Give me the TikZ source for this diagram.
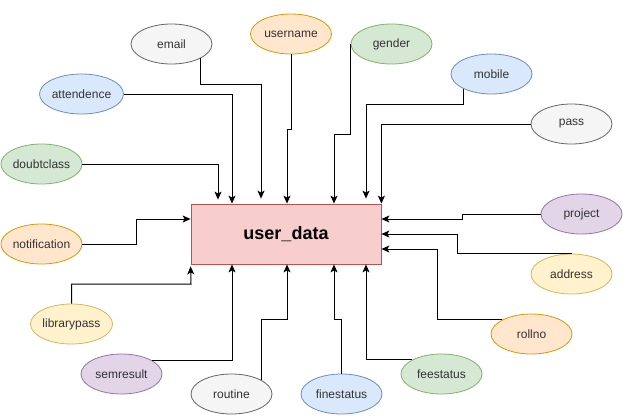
\documentclass[tikz,border=0pt]{standalone}
\usepackage{fontspec}
\setmainfont{Liberation Sans}
\usetikzlibrary{shapes.geometric,arrows.meta}
\definecolor{grayF}{HTML}{F5F5F5}\definecolor{grayS}{HTML}{666666}
\definecolor{orgF}{HTML}{FFE6CC}\definecolor{orgS}{HTML}{D79B00}
\definecolor{bluF}{HTML}{DAE8FC}\definecolor{bluS}{HTML}{6C8EBF}
\definecolor{grnF}{HTML}{D5E8D4}\definecolor{grnS}{HTML}{82B366}
\definecolor{yelF}{HTML}{FFF2CC}\definecolor{yelS}{HTML}{D6B656}
\definecolor{purF}{HTML}{E1D5E7}\definecolor{purS}{HTML}{9673A6}
\definecolor{redF}{HTML}{F8CECC}\definecolor{redS}{HTML}{B85450}
\definecolor{txt}{HTML}{333333}
\tikzset{
  attr/.style={ellipse,draw,line width=0.8pt,minimum width=81pt,minimum height=40pt,inner sep=0pt,font=\fontsize{12}{14}\selectfont,text=txt},
  gr/.style={attr,fill=grayF,draw=grayS},
  og/.style={attr,fill=orgF,draw=orgS},
  bl/.style={attr,fill=bluF,draw=bluS},
  gn/.style={attr,fill=grnF,draw=grnS},
  ye/.style={attr,fill=yelF,draw=yelS},
  pu/.style={attr,fill=purF,draw=purS},
  arr/.style={line width=1pt,-{Stealth[length=8pt,width=7pt,inset=2pt]}}
}
\begin{document}
\begin{tikzpicture}[x=1pt,y=-1pt]
\useasboundingbox (0,0) rectangle (623,415);
\node[draw=redS,fill=redF,line width=0.8pt,minimum width=190pt,minimum height=60pt,inner sep=0pt,font=\fontsize{18}{20}\selectfont\bfseries] (ud) at (286,234) {user\_data};
\node[gr] (email) at (171.5,44) {email};
\node[og] (username) at (291,34) {username};
\node[bl] (attendence) at (81.5,94) {attendence};
\node[gn] (doubtclass) at (41.5,164) {doubtclass};
\node[gn] (gender) at (391.5,44) {gender};
\node[bl] (mobile) at (491.5,74) {mobile};
\node[gr] (pass) at (571.5,124) {pass};
\node[og] (notification) at (41.5,244) {notification};
\node[ye] (librarypass) at (71.5,324) {librarypass};
\node[pu] (semresult) at (121.5,374) {semresult};
\node[gr] (routine) at (231.5,394) {routine};
\node[bl] (finestatus) at (341.5,394) {finestatus};
\node[gn] (feestatus) at (441.5,374) {feestatus};
\node[og] (rollno) at (531.5,334) {rollno};
\node[ye] (address) at (571.5,274) {address};
\node[pu] (project) at (581.5,214) {project};
% top
\draw[arr] (doubtclass.east) -| ([yshift=4pt]ud.north -| 218,0);
\draw[arr] (attendence.east) -| (ud.north -| 232,0);
\draw[arr] (email.-26.5) |- (261,84) -- ([yshift=5pt]ud.north -| 261,0);
\draw[arr] (username.south) |- (287,129) -- (ud.north -| 287,0);
\draw[arr] (gender.west) |- (334,134) -- (ud.north -| 334,0);
\draw[arr] (mobile.-152.7) |- (366,104) -- ([yshift=5pt]ud.north -| 366,0);
\draw[arr] (pass.west) -| (ud.north east);
% left
\draw[arr] (notification.east) -- (136,244) |- ([yshift=15pt]ud.west);
% bottom
\draw[arr] (librarypass.north) |- (191,284) -- ([yshift=-2pt]ud.south west);
\draw[arr] (semresult.24) -| (ud.south -| 232,0);
\draw[arr] (routine.25.8) |- (287,319) -- (ud.south -| 287,0);
\draw[arr] (finestatus.north) |- (334,319) -- (ud.south -| 334,0);
\draw[arr] (feestatus.154.2) -| (ud.south -| 366,0);
% right
\draw[arr] (rollno.154.2) -| (437,249) -- ([yshift=-15pt]ud.east);
\draw[arr] (address.north) -| (457,234) -- (ud.east);
\draw[arr] (project.west) -- (462,214) |- ([yshift=15pt]ud.east);
\end{tikzpicture}
\end{document}
